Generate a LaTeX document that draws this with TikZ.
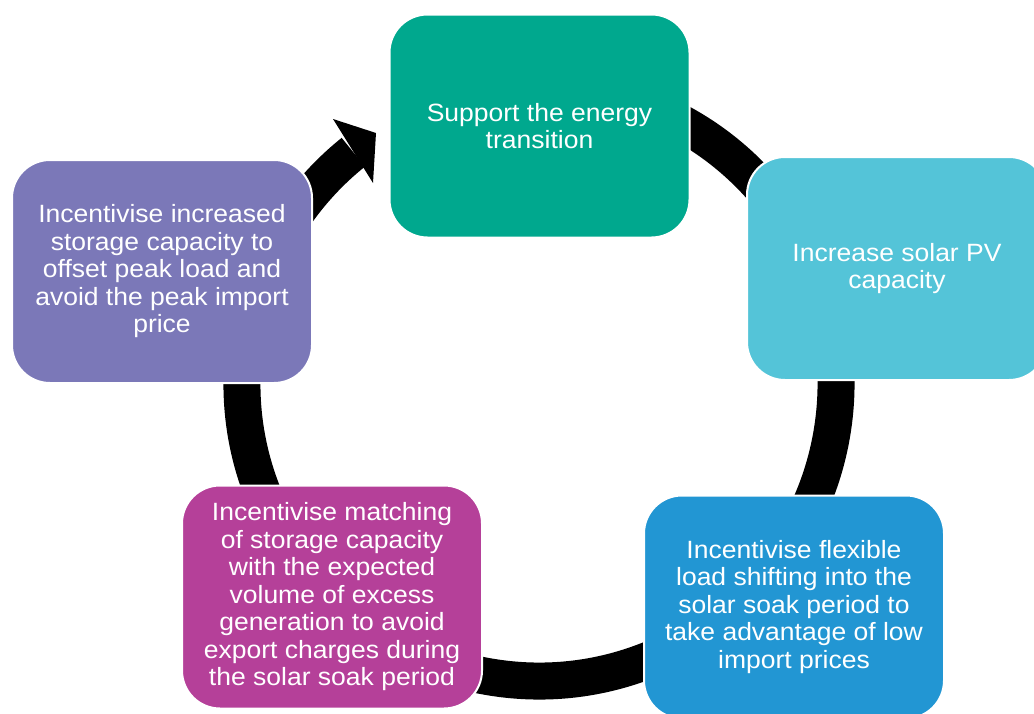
\documentclass[tikz,border=0pt]{standalone}
\usepackage{fontspec}
\setmainfont{Liberation Sans}[FakeStretch=1.06]
\usetikzlibrary{calc}
\definecolor{stageA}{HTML}{00A88E}
\definecolor{stageB}{HTML}{54C4D8}
\definecolor{stageC}{HTML}{2296D3}
\definecolor{stageD}{HTML}{B54099}
\definecolor{stageE}{HTML}{7B78B8}
\tikzstyle{stage}=[draw=white, line width=2pt, rounded corners=38pt, minimum width=300pt, minimum height=223pt, inner sep=0pt, align=center, text=white, font=\fontsize{25pt}{27.5pt}\selectfont]
\tikzstyle{ring}=[line width=37pt]

\begin{document}
\begin{tikzpicture}[x=1pt, y=-1pt]
\useasboundingbox (0,0) rectangle (1034,713);
\clip (0,0) rectangle (1034,713);
\coordinate (c) at (539,384);
%
\draw[ring] (c) ++(280:297) arc[start angle=280, end angle=591.3, radius=297];
\coordinate (w1) at (333,119);
\coordinate (tip) at (376,133);
\coordinate (w2) at (373,183);
\fill (w1) -- (tip) -- (w2) -- cycle;
%
\node[stage, fill=stageA] (energy) at (539.5,126) {Support the energy\\transition};
\node[stage, fill=stageB] (solar) at (897,268.5) {Increase solar PV\\capacity};
\node[stage, fill=stageC] (shift) at (794,607) {Incentivise flexible\\load shifting into the\\solar soak period to\\take advantage of low\\import prices};
\node[stage, fill=stageD] (match) at (332,597) {Incentivise matching\\of storage capacity\\with the expected\\volume of excess\\generation to avoid\\export charges during\\the solar soak period};
\node[stage, fill=stageE] (store) at (162,271.5) {Incentivise increased\\storage capacity to\\offset peak load and\\avoid the peak import\\price};
%
\end{tikzpicture}
\end{document}
